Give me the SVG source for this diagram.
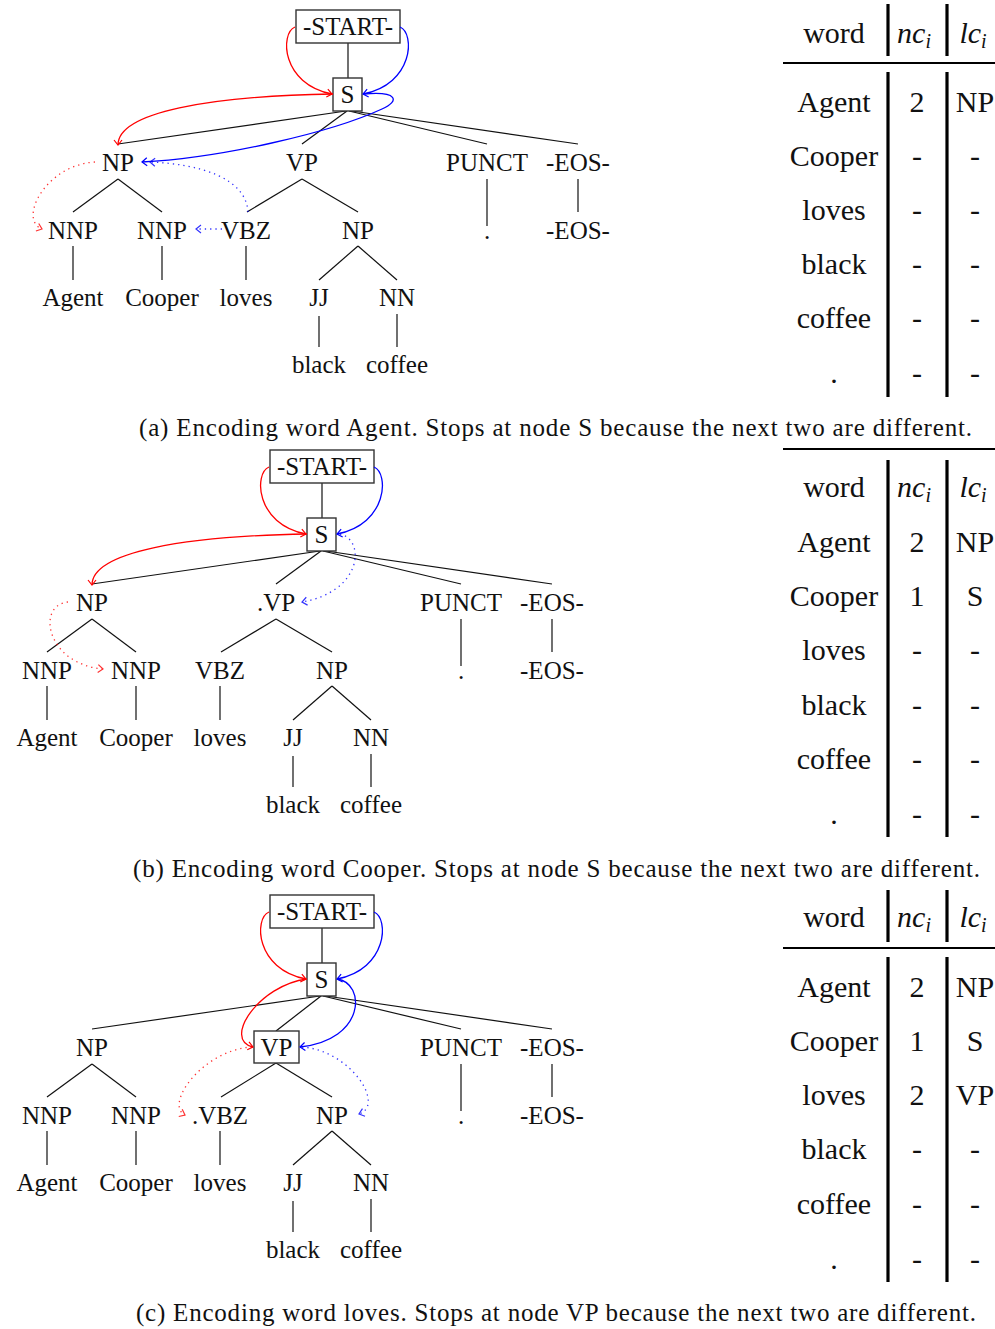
<svg xmlns="http://www.w3.org/2000/svg" width="995" height="1329" viewBox="0 0 995 1329">
  <style>
    text { font-family: "Liberation Serif", "DejaVu Serif", serif; font-size: 25px; fill: #111; text-anchor: middle; }
    .tb text, text.tb { font-size: 30px; }
    .it { font-style: italic; }
    .sub { font-size: 20px; font-style: italic; }
    .edge { stroke: #111; stroke-width: 1.2; fill: none; }
    .box { fill: #fff; stroke: #333; stroke-width: 1.4; }
    .bar { stroke: #000; stroke-width: 3.2; }
    .rule { stroke: #000; stroke-width: 2; }
    .red { stroke: #ff0000; stroke-width: 1.3; fill: none; marker-end: url(#headR); }
    .blue { stroke: #0000ff; stroke-width: 1.3; fill: none; marker-end: url(#headB); }
    .dot { stroke-dasharray: 1.3 4; opacity: 0.8; }
  </style>
  <defs>
    <marker id="headR" viewBox="-7 -5 8 10" markerWidth="8" markerHeight="10" refX="0" refY="0" orient="auto" markerUnits="userSpaceOnUse">
      <path d="M-5,-4 L0,0 L-5,4" fill="none" stroke="#ff0000" stroke-width="1.2"/>
    </marker>
    <marker id="headB" viewBox="-7 -5 8 10" markerWidth="8" markerHeight="10" refX="0" refY="0" orient="auto" markerUnits="userSpaceOnUse">
      <path d="M-5,-4 L0,0 L-5,4" fill="none" stroke="#0000ff" stroke-width="1.2"/>
    </marker>
  </defs>

  <!-- ===== Panel (a) ===== -->
  <g id="panel-a">
    <g id="a-tree-edges">
      <line class="edge" x1="348" y1="43" x2="348" y2="78"/>
      <line class="edge" x1="346" y1="111" x2="118" y2="144"/>
      <line class="edge" x1="347" y1="111" x2="302" y2="144"/>
      <line class="edge" x1="349" y1="111" x2="487" y2="144"/>
      <line class="edge" x1="352" y1="111" x2="578" y2="144"/>
      <line class="edge" x1="118" y1="179" x2="73" y2="212"/>
      <line class="edge" x1="118" y1="179" x2="162" y2="212"/>
      <line class="edge" x1="302" y1="179" x2="247" y2="212"/>
      <line class="edge" x1="302" y1="179" x2="358" y2="212"/>
      <line class="edge" x1="487" y1="179" x2="487" y2="226"/>
      <line class="edge" x1="578" y1="179" x2="578" y2="212"/>
      <line class="edge" x1="73" y1="246" x2="73" y2="280"/>
      <line class="edge" x1="162" y1="246" x2="162" y2="280"/>
      <line class="edge" x1="246" y1="246" x2="246" y2="280"/>
      <line class="edge" x1="358" y1="246" x2="319" y2="280"/>
      <line class="edge" x1="358" y1="246" x2="397" y2="280"/>
      <line class="edge" x1="319" y1="316" x2="319" y2="347"/>
      <line class="edge" x1="397" y1="314" x2="397" y2="347"/>
    </g>
    <g id="a-start"><rect class="box" x="296" y="10" width="104" height="33"/><text x="348" y="35">-START-</text></g>
    <g id="a-S"><rect class="box" x="333" y="78" width="29" height="33"/><text x="347.5" y="103">S</text></g>
    <g id="a-NP"><text x="118" y="171">NP</text></g>
    <g id="a-VP"><text x="302" y="171">VP</text></g>
    <g id="a-PUNCT"><text x="487" y="171">PUNCT</text></g>
    <g id="a-EOS1"><text x="578" y="171">-EOS-</text></g>
    <g id="a-NNP1"><text x="73" y="239">NNP</text></g>
    <g id="a-NNP2"><text x="162" y="239">NNP</text></g>
    <g id="a-VBZ"><text x="246" y="239">VBZ</text></g>
    <g id="a-NP2"><text x="358" y="239">NP</text></g>
    <g id="a-dot"><text x="487" y="239">.</text></g>
    <g id="a-EOS2"><text x="578" y="239">-EOS-</text></g>
    <g id="a-Agent"><text x="73" y="306">Agent</text></g>
    <g id="a-Cooper"><text x="162" y="306">Cooper</text></g>
    <g id="a-loves"><text x="246" y="306">loves</text></g>
    <g id="a-JJ"><text x="319" y="306">JJ</text></g>
    <g id="a-NN"><text x="397" y="306">NN</text></g>
    <g id="a-black"><text x="319" y="373">black</text></g>
    <g id="a-coffee"><text x="397" y="373">coffee</text></g>
    <g id="a-arrows">
      <path class="red" d="M295,27 C280,33 281,84 332,94"/>
      <path class="blue" d="M400,27 C415,33 414,84 363,94"/>
      <path class="red" d="M333,94 C210,96 118,112 118,145"/>
      <path class="blue" d="M364,94 C398,91 400,101 382,109 C330,133 220,158 142,162"/>
      <path class="red dot" d="M95,162 C45,165 18,220 42,229"/>
      <path class="blue dot" d="M248,212 C246,178 200,164 150,162"/>
      <path class="blue dot" d="M222,229 L196,229"/>
    </g>
  </g>

  <!-- table (a) -->
  <g id="table-a" class="tb">
    <text x="834" y="43">word</text>
    <text x="914" y="43"><tspan class="it">nc</tspan><tspan class="sub" dy="5">i</tspan></text>
    <text x="973" y="43"><tspan class="it">lc</tspan><tspan class="sub" dy="5">i</tspan></text>
    <line class="bar" x1="888" y1="4" x2="888" y2="56"/>
    <line class="bar" x1="947" y1="4" x2="947" y2="56"/>
    <line class="rule" x1="783" y1="63" x2="995" y2="63"/>
    <line class="bar" x1="888" y1="72" x2="888" y2="397"/>
    <line class="bar" x1="947" y1="72" x2="947" y2="397"/>
    <text x="834" y="112">Agent</text><text x="917" y="112">2</text><text x="975" y="112">NP</text>
    <text x="834" y="166">Cooper</text><text x="917" y="166">-</text><text x="975" y="166">-</text>
    <text x="834" y="220">loves</text><text x="917" y="220">-</text><text x="975" y="220">-</text>
    <text x="834" y="274">black</text><text x="917" y="274">-</text><text x="975" y="274">-</text>
    <text x="834" y="328">coffee</text><text x="917" y="328">-</text><text x="975" y="328">-</text>
    <text x="834" y="383">.</text><text x="917" y="383">-</text><text x="975" y="383">-</text>
  </g>
  <text id="caption-a" x="555.5" y="436" textLength="833" lengthAdjust="spacing">(a) Encoding word Agent. Stops at node S because the next two are different.</text>

  <!-- ===== Panel (b) ===== -->
  <g id="panel-b" transform="translate(-26,440)">
    <g id="b-tree-edges">
      <line class="edge" x1="348" y1="43" x2="348" y2="78"/>
      <line class="edge" x1="346" y1="111" x2="118" y2="144"/>
      <line class="edge" x1="347" y1="111" x2="302" y2="144"/>
      <line class="edge" x1="349" y1="111" x2="487" y2="144"/>
      <line class="edge" x1="352" y1="111" x2="578" y2="144"/>
      <line class="edge" x1="118" y1="179" x2="73" y2="212"/>
      <line class="edge" x1="118" y1="179" x2="162" y2="212"/>
      <line class="edge" x1="302" y1="179" x2="247" y2="212"/>
      <line class="edge" x1="302" y1="179" x2="358" y2="212"/>
      <line class="edge" x1="487" y1="179" x2="487" y2="226"/>
      <line class="edge" x1="578" y1="179" x2="578" y2="212"/>
      <line class="edge" x1="73" y1="246" x2="73" y2="280"/>
      <line class="edge" x1="162" y1="246" x2="162" y2="280"/>
      <line class="edge" x1="246" y1="246" x2="246" y2="280"/>
      <line class="edge" x1="358" y1="246" x2="319" y2="280"/>
      <line class="edge" x1="358" y1="246" x2="397" y2="280"/>
      <line class="edge" x1="319" y1="316" x2="319" y2="347"/>
      <line class="edge" x1="397" y1="314" x2="397" y2="347"/>
    </g>
    <g id="b-start"><rect class="box" x="296" y="10" width="104" height="33"/><text x="348" y="35">-START-</text></g>
    <g id="b-S"><rect class="box" x="333" y="78" width="29" height="33"/><text x="347.5" y="103">S</text></g>
    <g id="b-NP"><text x="118" y="171">NP</text></g>
    <g id="b-VP"><text x="302" y="171">.VP</text></g>
    <g id="b-PUNCT"><text x="487" y="171">PUNCT</text></g>
    <g id="b-EOS1"><text x="578" y="171">-EOS-</text></g>
    <g id="b-NNP1"><text x="73" y="239">NNP</text></g>
    <g id="b-NNP2"><text x="162" y="239">NNP</text></g>
    <g id="b-VBZ"><text x="246" y="239">VBZ</text></g>
    <g id="b-NP2"><text x="358" y="239">NP</text></g>
    <g id="b-dot"><text x="487" y="239">.</text></g>
    <g id="b-EOS2"><text x="578" y="239">-EOS-</text></g>
    <g id="b-Agent"><text x="73" y="306">Agent</text></g>
    <g id="b-Cooper"><text x="162" y="306">Cooper</text></g>
    <g id="b-loves"><text x="246" y="306">loves</text></g>
    <g id="b-JJ"><text x="319" y="306">JJ</text></g>
    <g id="b-NN"><text x="397" y="306">NN</text></g>
    <g id="b-black"><text x="319" y="373">black</text></g>
    <g id="b-coffee"><text x="397" y="373">coffee</text></g>
    <g id="b-arrows">
      <path class="red" d="M295,27 C280,33 281,84 332,94"/>
      <path class="blue" d="M400,27 C415,33 414,84 363,94"/>
      <path class="red" d="M333,94 C210,96 118,112 118,145"/>
      <path class="blue dot" d="M366,94 C392,100 388,152 328,162"/>
      <path class="red dot" d="M94,162 C62,165 72,224 129,229"/>
    </g>
  </g>

  <!-- table (b) -->
  <g id="table-b" class="tb">
    <line class="rule" x1="783" y1="449" x2="995" y2="449"/>
    <text x="834" y="497">word</text>
    <text x="914" y="497"><tspan class="it">nc</tspan><tspan class="sub" dy="5">i</tspan></text>
    <text x="973" y="497"><tspan class="it">lc</tspan><tspan class="sub" dy="5">i</tspan></text>
    <line class="bar" x1="888" y1="460" x2="888" y2="837"/>
    <line class="bar" x1="947" y1="460" x2="947" y2="837"/>
    <text x="834" y="552">Agent</text><text x="917" y="552">2</text><text x="975" y="552">NP</text>
    <text x="834" y="606">Cooper</text><text x="917" y="606">1</text><text x="975" y="606">S</text>
    <text x="834" y="660">loves</text><text x="917" y="660">-</text><text x="975" y="660">-</text>
    <text x="834" y="715">black</text><text x="917" y="715">-</text><text x="975" y="715">-</text>
    <text x="834" y="769">coffee</text><text x="917" y="769">-</text><text x="975" y="769">-</text>
    <text x="834" y="824">.</text><text x="917" y="824">-</text><text x="975" y="824">-</text>
  </g>
  <text id="caption-b" x="556.5" y="877" textLength="847" lengthAdjust="spacing">(b) Encoding word Cooper. Stops at node S because the next two are different.</text>

  <!-- ===== Panel (c) ===== -->
  <g id="panel-c" transform="translate(-26,885)">
    <g id="c-tree-edges">
      <line class="edge" x1="348" y1="43" x2="348" y2="78"/>
      <line class="edge" x1="346" y1="111" x2="118" y2="144"/>
      <line class="edge" x1="347" y1="111" x2="302" y2="146"/>
      <line class="edge" x1="349" y1="111" x2="487" y2="144"/>
      <line class="edge" x1="352" y1="111" x2="578" y2="144"/>
      <line class="edge" x1="118" y1="179" x2="73" y2="212"/>
      <line class="edge" x1="118" y1="179" x2="162" y2="212"/>
      <line class="edge" x1="302" y1="178" x2="247" y2="212"/>
      <line class="edge" x1="302" y1="178" x2="358" y2="212"/>
      <line class="edge" x1="487" y1="179" x2="487" y2="226"/>
      <line class="edge" x1="578" y1="179" x2="578" y2="212"/>
      <line class="edge" x1="73" y1="246" x2="73" y2="280"/>
      <line class="edge" x1="162" y1="246" x2="162" y2="280"/>
      <line class="edge" x1="246" y1="246" x2="246" y2="280"/>
      <line class="edge" x1="358" y1="246" x2="319" y2="280"/>
      <line class="edge" x1="358" y1="246" x2="397" y2="280"/>
      <line class="edge" x1="319" y1="316" x2="319" y2="347"/>
      <line class="edge" x1="397" y1="314" x2="397" y2="347"/>
    </g>
    <g id="c-start"><rect class="box" x="296" y="10" width="104" height="33"/><text x="348" y="35">-START-</text></g>
    <g id="c-S"><rect class="box" x="333" y="78" width="29" height="33"/><text x="347.5" y="103">S</text></g>
    <g id="c-NP"><text x="118" y="171">NP</text></g>
    <g id="c-VP"><rect class="box" x="280" y="146" width="45" height="32"/><text x="302.5" y="171">VP</text></g>
    <g id="c-PUNCT"><text x="487" y="171">PUNCT</text></g>
    <g id="c-EOS1"><text x="578" y="171">-EOS-</text></g>
    <g id="c-NNP1"><text x="73" y="239">NNP</text></g>
    <g id="c-NNP2"><text x="162" y="239">NNP</text></g>
    <g id="c-VBZ"><text x="246" y="239">.VBZ</text></g>
    <g id="c-NP2"><text x="358" y="239">NP</text></g>
    <g id="c-dot"><text x="487" y="239">.</text></g>
    <g id="c-EOS2"><text x="578" y="239">-EOS-</text></g>
    <g id="c-Agent"><text x="73" y="306">Agent</text></g>
    <g id="c-Cooper"><text x="162" y="306">Cooper</text></g>
    <g id="c-loves"><text x="246" y="306">loves</text></g>
    <g id="c-JJ"><text x="319" y="306">JJ</text></g>
    <g id="c-NN"><text x="397" y="306">NN</text></g>
    <g id="c-black"><text x="319" y="373">black</text></g>
    <g id="c-coffee"><text x="397" y="373">coffee</text></g>
    <g id="c-arrows">
      <path class="red" d="M295,27 C280,33 281,84 332,94"/>
      <path class="blue" d="M400,27 C415,33 414,84 363,94"/>
      <path class="red" d="M333,94 C285,100 248,155 279,162"/>
      <path class="blue" d="M363,94 C392,98 392,155 326,162"/>
      <path class="red dot" d="M278,162 C228,165 190,220 211,230"/>
      <path class="blue dot" d="M328,162 C376,165 412,220 385,229"/>
    </g>
  </g>

  <!-- table (c) -->
  <g id="table-c" class="tb">
    <text x="834" y="927">word</text>
    <text x="914" y="927"><tspan class="it">nc</tspan><tspan class="sub" dy="5">i</tspan></text>
    <text x="973" y="927"><tspan class="it">lc</tspan><tspan class="sub" dy="5">i</tspan></text>
    <line class="bar" x1="888" y1="890" x2="888" y2="942"/>
    <line class="bar" x1="947" y1="890" x2="947" y2="942"/>
    <line class="rule" x1="783" y1="948" x2="995" y2="948"/>
    <line class="bar" x1="888" y1="957" x2="888" y2="1282"/>
    <line class="bar" x1="947" y1="957" x2="947" y2="1282"/>
    <text x="834" y="997">Agent</text><text x="917" y="997">2</text><text x="975" y="997">NP</text>
    <text x="834" y="1051">Cooper</text><text x="917" y="1051">1</text><text x="975" y="1051">S</text>
    <text x="834" y="1105">loves</text><text x="917" y="1105">2</text><text x="975" y="1105">VP</text>
    <text x="834" y="1159">black</text><text x="917" y="1159">-</text><text x="975" y="1159">-</text>
    <text x="834" y="1214">coffee</text><text x="917" y="1214">-</text><text x="975" y="1214">-</text>
    <text x="834" y="1269">.</text><text x="917" y="1269">-</text><text x="975" y="1269">-</text>
  </g>
  <text id="caption-c" x="556" y="1321" textLength="840" lengthAdjust="spacing">(c) Encoding word loves. Stops at node VP because the next two are different.</text>
</svg>
